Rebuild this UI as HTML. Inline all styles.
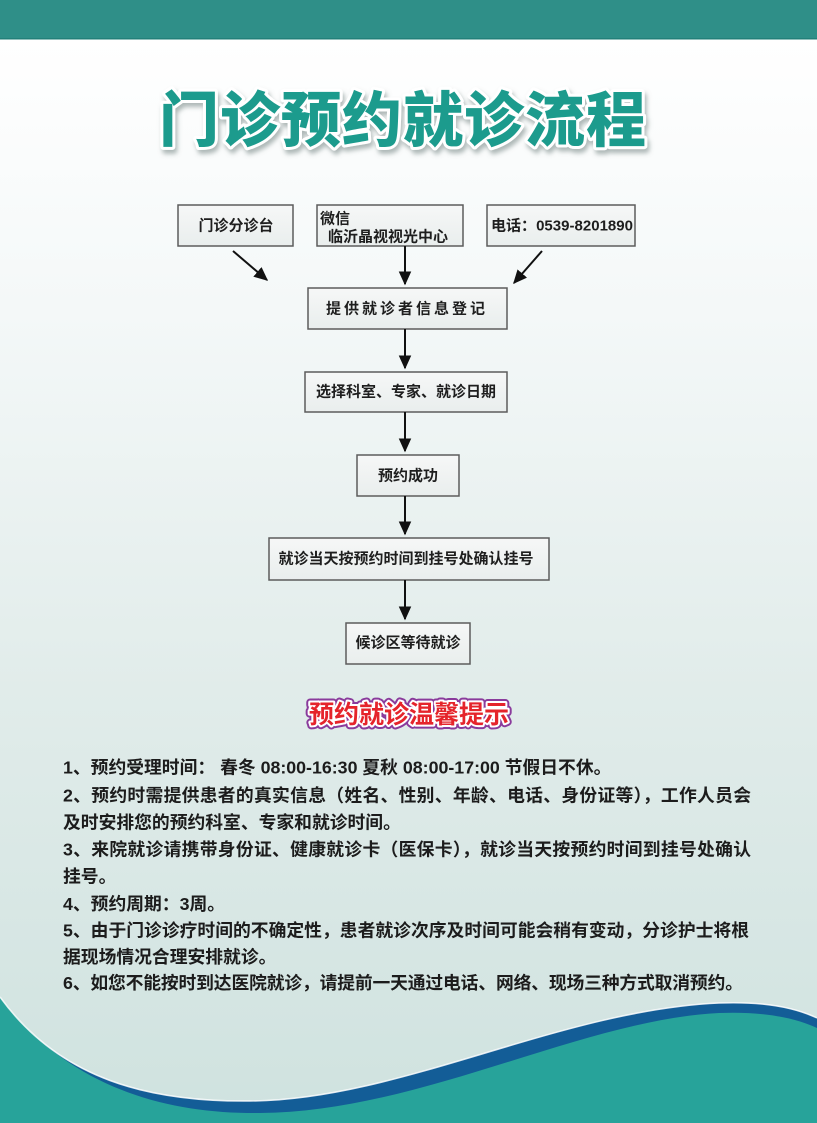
<!DOCTYPE html>
<html><head><meta charset="utf-8">
<style>
html,body{margin:0;padding:0;width:817px;height:1123px;overflow:hidden;background:#fff}
svg{display:block}
text{font-family:"Liberation Sans","Noto Sans CJK SC",sans-serif}
</style></head>
<body>
<svg width="817" height="1123" viewBox="0 0 817 1123" xmlns="http://www.w3.org/2000/svg">
<defs>
<linearGradient id="bg" x1="0" y1="0" x2="0" y2="1">
<stop offset="0" stop-color="#ffffff"/>
<stop offset="0.25" stop-color="#f4f8f8"/>
<stop offset="0.6" stop-color="#e1ecea"/>
<stop offset="1" stop-color="#cfe2df"/>
</linearGradient>
<linearGradient id="box" x1="0" y1="0" x2="0" y2="1">
<stop offset="0" stop-color="#f6f7f7"/>
<stop offset="1" stop-color="#e9eeed"/>
</linearGradient>
<filter id="sh" x="-10%" y="-30%" width="120%" height="160%">
<feDropShadow dx="2" dy="4" stdDeviation="2.5" flood-color="#7a8a88" flood-opacity="0.6"/>
</filter>
<marker id="ah" viewBox="0 0 10 10" refX="9" refY="5" markerWidth="7" markerHeight="7" orient="auto" markerUnits="strokeWidth">
<path d="M0,0.5 L10,5 L0,9.5 Z" fill="#111"/>
</marker>
</defs>

<rect x="0" y="39" width="817" height="1084" fill="url(#bg)"/>
<rect x="0" y="0" width="817" height="39" fill="#2f8f88"/>
<rect x="0" y="38" width="817" height="1.5" fill="#23807a"/>

<!-- Title -->
<g filter="url(#sh)">
<text x="403" y="121" dominant-baseline="central" text-anchor="middle" font-size="60" font-weight="900" fill="#1f9b8d" stroke="#ffffff" stroke-width="6" paint-order="stroke" stroke-linejoin="round" letter-spacing="1">门诊预约就诊流程</text>
</g>

<!-- Flow boxes -->
<g fill="url(#box)" stroke="#5c5c5c" stroke-width="1.5">
<rect x="178" y="205" width="115" height="41"/>
<rect x="317" y="205" width="146" height="41"/>
<rect x="487" y="205" width="148" height="41"/>
<rect x="308" y="288" width="199" height="41"/>
<rect x="305" y="372" width="202" height="40"/>
<rect x="357" y="455" width="102" height="41"/>
<rect x="269" y="538" width="280" height="42"/>
<rect x="346" y="623" width="124" height="41"/>
</g>

<g font-size="15" font-weight="bold" fill="#1e1e1e" dominant-baseline="central">
<text x="236" y="226" text-anchor="middle">门诊分诊台</text>
<text x="320" y="219">微信</text>
<text x="328" y="237">临沂晶视视光中心</text>
<text x="491" y="226" textLength="142" lengthAdjust="spacingAndGlyphs">电话：0539-8201890</text>
<text x="407" y="309" text-anchor="middle" letter-spacing="3">提供就诊者信息登记</text>
<text x="406" y="392" text-anchor="middle">选择科室、专家、就诊日期</text>
<text x="408" y="476" text-anchor="middle">预约成功</text>
<text x="406" y="559" text-anchor="middle">就诊当天按预约时间到挂号处确认挂号</text>
<text x="408" y="643" text-anchor="middle">候诊区等待就诊</text>
</g>

<!-- Arrows -->
<g stroke="#111" stroke-width="2" fill="none" marker-end="url(#ah)">
<line x1="233" y1="251" x2="267" y2="280"/>
<line x1="542" y1="251" x2="514" y2="283"/>
<line x1="405" y1="246" x2="405" y2="284"/>
<line x1="405" y1="329" x2="405" y2="368"/>
<line x1="405" y1="412" x2="405" y2="451"/>
<line x1="405" y1="496" x2="405" y2="534"/>
<line x1="405" y1="580" x2="405" y2="619"/>
</g>

<!-- Subtitle -->
<g font-size="25" font-weight="bold" text-anchor="middle" dominant-baseline="central">
<text x="409" y="715" fill="#8a3b9c" stroke="#8a3b9c" stroke-width="8" stroke-linejoin="round">预约就诊温馨提示</text>
<text x="409" y="715" fill="#ffffff" stroke="#ffffff" stroke-width="4" stroke-linejoin="round">预约就诊温馨提示</text>
<text x="409" y="715" fill="#e5242b">预约就诊温馨提示</text>
</g>

<!-- Tips -->
<g font-size="17.8" font-weight="bold" fill="#1c1c1c" dominant-baseline="central">
<text x="63" y="767.5">1、预约受理时间： 春冬 08:00-16:30 夏秋 08:00-17:00 节假日不休。</text>
<text x="63" y="795.5" textLength="688" lengthAdjust="spacing">2、预约时需提供患者的真实信息（姓名、性别、年龄、电话、身份证等），工作人员会</text>
<text x="63" y="822.5">及时安排您的预约科室、专家和就诊时间。</text>
<text x="63" y="849.5" textLength="688" lengthAdjust="spacing">3、来院就诊请携带身份证、健康就诊卡（医保卡），就诊当天按预约时间到挂号处确认</text>
<text x="63" y="876.5">挂号。</text>
<text x="63" y="904">4、预约周期：3周。</text>
<text x="63" y="930.5" textLength="686" lengthAdjust="spacing">5、由于门诊诊疗时间的不确定性，患者就诊次序及时间可能会稍有变动，分诊护士将根</text>
<text x="63" y="957">据现场情况合理安排就诊。</text>
<text x="63" y="983" textLength="680" lengthAdjust="spacing">6、如您不能按时到达医院就诊，请提前一天通过电话、网络、现场三种方式取消预约。</text>
</g>

<!-- Bottom wave -->
<path d="M0,997 C60,1080 150,1102 250,1101 C400,1100 560,1010 719,1003 C770,1001 800,1010 817,1018 L817,1123 L0,1123 Z" fill="#135d97"/>
<path d="M0,997 C70,1090 170,1114 260,1113 C420,1112 580,1020 719,1013 C770,1011 800,1020 817,1028 L817,1123 L0,1123 Z" fill="#27a39a"/>
<path d="M0,997 C60,1080 150,1102 250,1101 C400,1100 560,1010 719,1003 C770,1001 800,1010 817,1018" fill="none" stroke="#ffffff" stroke-width="1.5" opacity="0.85"/>
</svg>
</body></html>
